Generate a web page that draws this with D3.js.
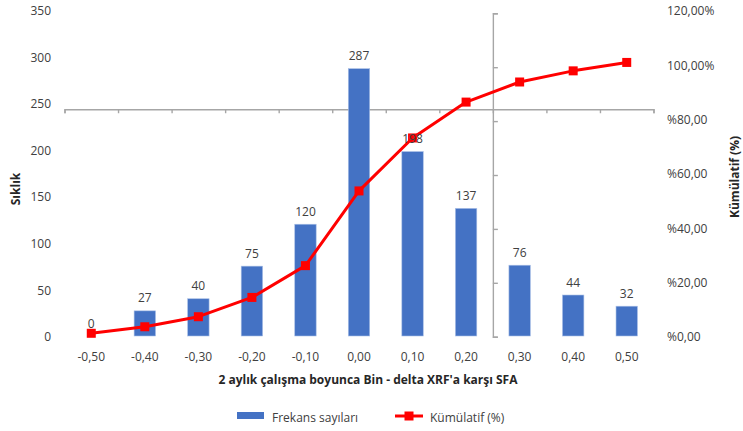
<!DOCTYPE html>
<html>
<head>
<meta charset="utf-8">
<script src="https://cdn.jsdelivr.net/npm/d3@7"></script>
<style>
  html, body { margin: 0; padding: 0; background: #fff; }
  svg { display: block; font-family: "Open Sans", "Noto Sans", sans-serif; }
</style>
</head>
<body>
<svg id="chart" width="743" height="431"></svg>
<script>
// Bin labels (delta XRF vs SFA)
const categories = ["-0,50", "-0,40", "-0,30", "-0,20", "-0,10", "0,00", "0,10", "0,20", "0,30", "0,40", "0,50"];
// Frequency counts per bin
const frequencies = [0, 27, 40, 75, 120, 287, 198, 137, 76, 44, 32];
// Cumulative share per bin (%)
const cumulative = [1.0, 3.4, 7.1, 14.2, 25.9, 53.4, 72.9, 86.1, 93.5, 97.6, 100.7];
// Axis ticks
const leftTicks = [0, 50, 100, 150, 200, 250, 300, 350];
const rightTicks = [0, 20, 40, 60, 80, 100, 120];
const rightTickLabels = ["%0,00", "%20,00", "%40,00", "%60,00", "%80,00", "100,00%", "120,00%"];

const svg = d3.select("#chart");
const textColor = "#404040";
const axisGray = "#a6a6a6";
const barColor = "#4472c4";
const lineColor = "#ff0000";

const plot = { left: 64.5, right: 653.5, top: 10, bottom: 336 };

const x = d3.scaleBand(categories, [plot.left, plot.right]).paddingInner(0.6).paddingOuter(0.3);
const y = d3.scaleLinear([0, 350], [plot.bottom, plot.top]);
const y2 = d3.scaleLinear([0, 120], [plot.bottom, plot.top]);

// Auxiliary crossing axes (secondary category / value axes)
const xAux = d3.scaleLinear([0, categories.length], [plot.left, plot.right]);
const yAux = d3.scaleLinear([0, 6], [336.7, 13.3]);
const crossY = yAux(4.22);
const crossX = xAux(8);

const auxH = svg.append("g")
  .attr("transform", `translate(0,${crossY})`)
  .call(d3.axisBottom(xAux).tickValues(d3.range(categories.length + 1)).tickSize(4).tickFormat(""));
const auxV = svg.append("g")
  .attr("transform", `translate(${crossX},0)`)
  .call(d3.axisRight(yAux).tickValues(d3.range(7)).tickSize(5).tickFormat(""));
[auxH, auxV].forEach(g => {
  g.selectAll("path, line").attr("stroke", axisGray).attr("stroke-width", 1.4);
});

// Bars
svg.append("g").selectAll("rect")
  .data(frequencies)
  .join("rect")
  .attr("x", (d, i) => x(categories[i]))
  .attr("y", d => y(d))
  .attr("width", x.bandwidth())
  .attr("height", d => y(0) - y(d))
  .attr("fill", barColor)
  .attr("stroke", "#a9bfe6")
  .attr("stroke-width", 0.6);

// Cumulative line
const cx = (d, i) => x(categories[i]) + x.bandwidth() / 2;
svg.append("path")
  .datum(cumulative)
  .attr("fill", "none")
  .attr("stroke", lineColor)
  .attr("stroke-width", 3)
  .attr("stroke-linejoin", "round")
  .attr("d", d3.line().x(cx).y(d => y2(d)));

const marker = 9;
svg.append("g").selectAll("rect")
  .data(cumulative)
  .join("rect")
  .attr("x", (d, i) => cx(d, i) - marker / 2)
  .attr("y", d => y2(d) - marker / 2)
  .attr("width", marker)
  .attr("height", marker)
  .attr("fill", lineColor);

// Bar value labels
svg.append("g").selectAll("text")
  .data(frequencies)
  .join("text")
  .attr("x", (d, i) => cx(d, i))
  .attr("y", d => y(d) - 8.5)
  .attr("text-anchor", "middle")
  .attr("font-size", 12)
  .attr("fill", textColor)
  .text(d => d);

// Left axis labels
svg.append("g").selectAll("text")
  .data(leftTicks)
  .join("text")
  .attr("x", 51)
  .attr("y", d => y(d) + 1)
  .attr("dy", "0.35em")
  .attr("text-anchor", "end")
  .attr("font-size", 12)
  .attr("fill", textColor)
  .text(d => d);

// Right axis labels
svg.append("g").selectAll("text")
  .data(rightTicks)
  .join("text")
  .attr("x", 667)
  .attr("y", d => y2(d) + 1)
  .attr("dy", "0.35em")
  .attr("text-anchor", "start")
  .attr("font-size", 12)
  .attr("fill", textColor)
  .text((d, i) => rightTickLabels[i]);

// Category labels
svg.append("g").selectAll("text")
  .data(categories)
  .join("text")
  .attr("x", d => x(d) + x.bandwidth() / 2)
  .attr("y", 357)
  .attr("dy", "0.35em")
  .attr("text-anchor", "middle")
  .attr("font-size", 12)
  .attr("fill", textColor)
  .text(d => d);

// Axis titles
svg.append("text")
  .attr("x", 368).attr("y", 380).attr("dy", "0.35em")
  .attr("text-anchor", "middle")
  .attr("font-size", 12).attr("font-weight", "bold")
  .attr("fill", "#262626")
  .text("2 aylık çalışma boyunca Bin - delta XRF'a karşı SFA");

svg.append("text")
  .attr("transform", "translate(16,189) rotate(-90)")
  .attr("dy", "0.35em")
  .attr("text-anchor", "middle")
  .attr("font-size", 12).attr("font-weight", "bold")
  .attr("fill", "#262626")
  .text("Sıklık");

svg.append("text")
  .attr("transform", "translate(735,177) rotate(-90)")
  .attr("dy", "0.35em")
  .attr("text-anchor", "middle")
  .attr("font-size", 12).attr("font-weight", "bold")
  .attr("fill", "#262626")
  .text("Kümülatif (%)");

// Legend
const legend = svg.append("g");
legend.append("rect")
  .attr("x", 237).attr("y", 412).attr("width", 27).attr("height", 7)
  .attr("fill", barColor);
legend.append("text")
  .attr("x", 272).attr("y", 418).attr("dy", "0.35em")
  .attr("font-size", 12).attr("fill", textColor)
  .text("Frekans sayıları");
legend.append("line")
  .attr("x1", 395).attr("x2", 423).attr("y1", 416).attr("y2", 416)
  .attr("stroke", lineColor).attr("stroke-width", 3);
legend.append("rect")
  .attr("x", 409 - marker / 2).attr("y", 416 - marker / 2)
  .attr("width", marker).attr("height", marker)
  .attr("fill", lineColor);
legend.append("text")
  .attr("x", 430).attr("y", 418).attr("dy", "0.35em")
  .attr("font-size", 12).attr("fill", textColor)
  .text("Kümülatif (%)");
</script>
</body>
</html>
